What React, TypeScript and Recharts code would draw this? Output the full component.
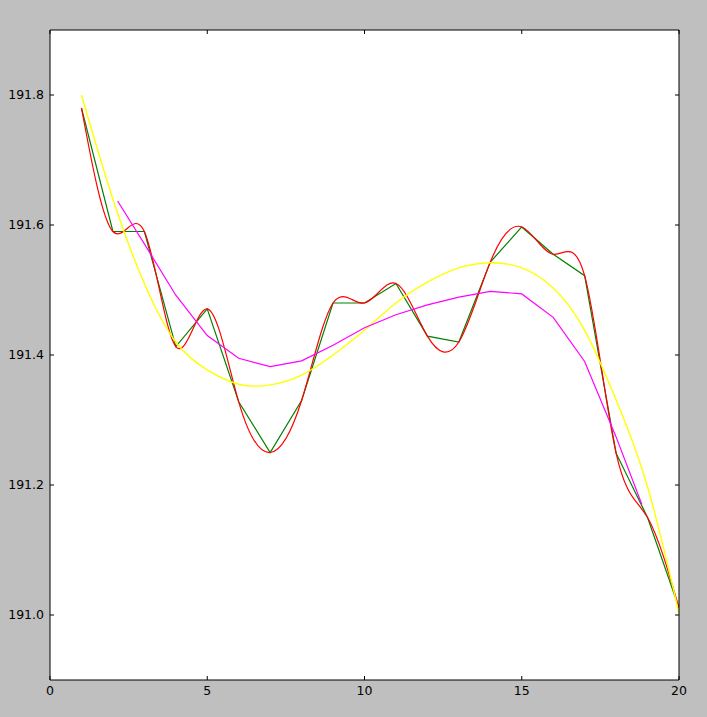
import { LineChart, Line, XAxis, YAxis, CartesianGrid } from "recharts";

// observed prices at each step
const steps = [1, 2, 3, 4, 5, 6, 7, 8, 9, 10, 11, 12, 13, 14, 15, 16, 17, 18, 19, 20];
const observed = [
  191.78, 191.59, 191.59, 191.413, 191.471, 191.328, 191.25, 191.33, 191.48, 191.48,
  191.51, 191.429, 191.42, 191.543, 191.597, 191.555, 191.522, 191.249, 191.15, 191.011,
];

// polynomial fit, read at the same steps
const polyFit = [
  191.8, 191.64, 191.51, 191.42, 191.377, 191.355, 191.354, 191.369, 191.4, 191.438,
  191.48, 191.512, 191.534, 191.542, 191.534, 191.503, 191.438, 191.331, 191.197, 191.003,
];

// moving average
const avgSteps = [2.15, 3, 4, 5, 6, 7, 8, 9, 10, 11, 12, 13, 14, 15, 16, 17, 18, 18.82];
const movingAvg = [
  191.637, 191.571, 191.492, 191.43, 191.395, 191.382, 191.391, 191.415, 191.442, 191.462,
  191.477, 191.489, 191.498, 191.494, 191.458, 191.39, 191.274, 191.17,
];

const xTicks = [0, 5, 10, 15, 20];
const yTicks = [191.0, 191.2, 191.4, 191.6, 191.8];

const toPoints = (xs: number[], ys: number[]) => xs.map((x, i) => ({ x, y: ys[i] }));

const observedData = toPoints(steps, observed);
const polyData = toPoints(steps, polyFit);
const avgData = toPoints(avgSteps, movingAvg);

const tickFont = { fill: "#000", fontSize: 12.5, fontFamily: "DejaVu Sans" };
const blank = () => "";

export default function App() {
  return (
    <div style={{ position: "absolute", left: 0, top: 0, width: 707, height: 717, background: "#bfbfbf" }}>
      <LineChart width={707} height={717} margin={{ top: 29, right: 27, bottom: 0, left: 0 }}>
        <CartesianGrid horizontal={false} vertical={false} fill="#ffffff" />
        <XAxis
          type="number"
          dataKey="x"
          domain={[0, 20]}
          ticks={xTicks}
          height={37}
          tick={tickFont}
          tickSize={-4}
          tickMargin={10}
          stroke="#000"
          allowDataOverflow
        />
        <XAxis
          xAxisId="top"
          orientation="top"
          type="number"
          dataKey="x"
          domain={[0, 20]}
          ticks={xTicks}
          height={1}
          tickSize={-4}
          tickFormatter={blank}
          stroke="#000"
          allowDataOverflow
        />
        <YAxis
          type="number"
          domain={[190.9, 191.9]}
          ticks={yTicks}
          width={50}
          tick={tickFont}
          tickSize={-4}
          tickMargin={10}
          tickFormatter={(v: number) => v.toFixed(1)}
          stroke="#000"
          allowDataOverflow
        />
        <YAxis
          yAxisId="right"
          orientation="right"
          type="number"
          domain={[190.9, 191.9]}
          ticks={yTicks}
          width={1}
          tickSize={-4}
          tickFormatter={blank}
          stroke="#000"
          allowDataOverflow
        />
        <Line data={observedData} dataKey="y" type="linear" stroke="#008000" strokeWidth={1.2} dot={false} isAnimationActive={false} />
        <Line data={observedData} dataKey="y" type="natural" stroke="#ff0000" strokeWidth={1.2} dot={false} isAnimationActive={false} />
        <Line
          data={polyData}
          xAxisId="top"
          yAxisId="right"
          dataKey="y"
          type="natural"
          stroke="#ffff00"
          strokeWidth={1.4}
          dot={false}
          isAnimationActive={false}
        />
        <Line data={avgData} dataKey="y" type="linear" stroke="#ff00ff" strokeWidth={1.2} dot={false} isAnimationActive={false} />
      </LineChart>
    </div>
  );
}
